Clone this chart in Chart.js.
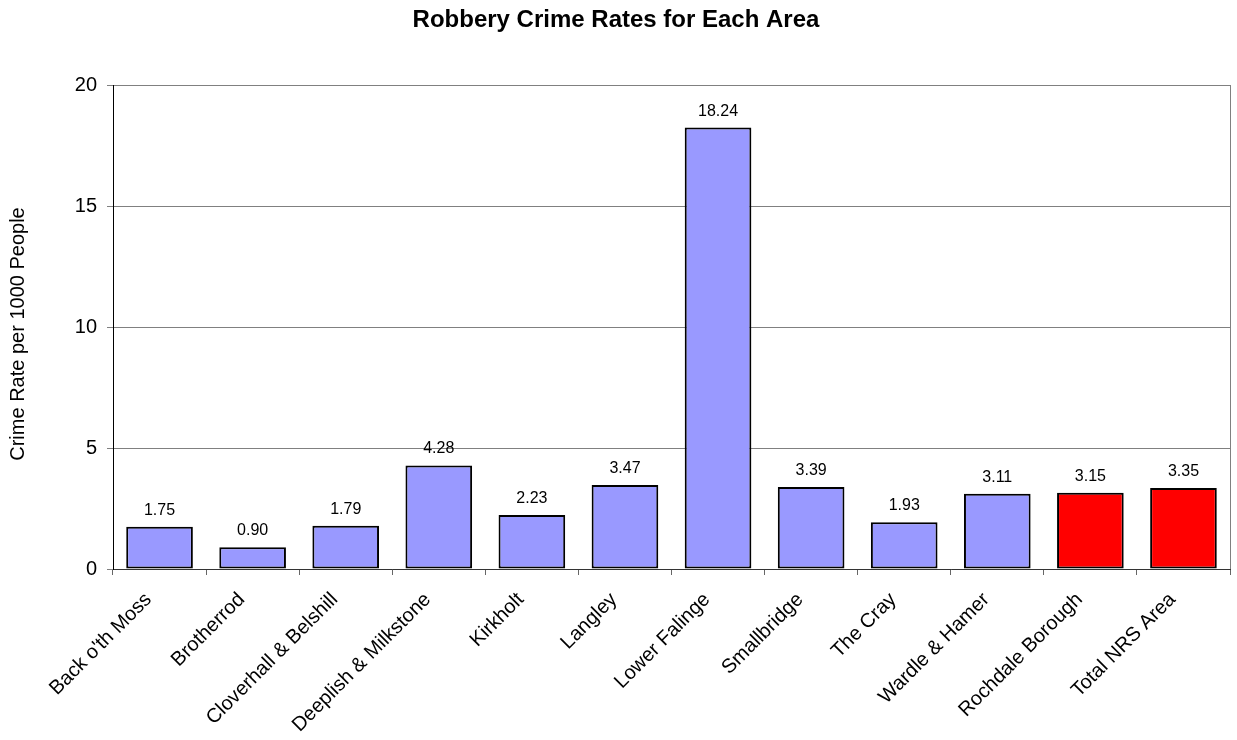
<!DOCTYPE html>
<html>
<head>
<meta charset="utf-8">
<script src="https://cdn.jsdelivr.net/npm/chart.js@4/dist/chart.umd.min.js"></script>
<style>
  html, body { margin: 0; padding: 0; background: #fff; }
  #wrap { width: 1237px; height: 740px; position: relative; }
</style>
</head>
<body>
<div id="wrap"><canvas id="c" width="1237" height="740"></canvas></div>
<script>
const chartTitle = "Robbery Crime Rates for Each Area";
const yAxisTitle = "Crime Rate per 1000 People";
const categories = ["Back o'th Moss", "Brotherrod", "Cloverhall & Belshill", "Deeplish & Milkstone", "Kirkholt", "Langley", "Lower Falinge", "Smallbridge", "The Cray", "Wardle & Hamer", "Rochdale Borough", "Total NRS Area"];
const rates = [1.75, 0.90, 1.79, 4.28, 2.23, 3.47, 18.24, 3.39, 1.93, 3.11, 3.15, 3.35];
const isComparison = [false, false, false, false, false, false, false, false, false, false, true, true];
const yTicks = [0, 5, 10, 15, 20];

const FONT = '"Liberation Sans", Arial, Helvetica, sans-serif';
const AREA_COLOR = '#9999FF';
const COMP_COLOR = '#FF0000';

const decorPlugin = {
  id: 'decor',
  afterDatasetsDraw(chart) {
    const ctx = chart.ctx;
    const area = chart.chartArea;
    const meta = chart.getDatasetMeta(0);
    ctx.save();
    // data labels
    ctx.fillStyle = '#000';
    ctx.font = '16px ' + FONT;
    ctx.textAlign = 'center';
    ctx.textBaseline = 'alphabetic';
    meta.data.forEach((bar, i) => {
      ctx.fillText(rates[i].toFixed(2), bar.x, bar.y - 12);
    });
    // right border of plot area
    ctx.strokeStyle = '#808080';
    ctx.lineWidth = 1;
    ctx.beginPath();
    ctx.moveTo(Math.round(area.right) + 0.5, area.top);
    ctx.lineTo(Math.round(area.right) + 0.5, area.bottom);
    ctx.stroke();
    ctx.restore();
  },
  afterDraw(chart) {
    const ctx = chart.ctx;
    ctx.save();
    ctx.fillStyle = '#000';
    ctx.font = 'bold 24px ' + FONT;
    ctx.textAlign = 'center';
    ctx.textBaseline = 'alphabetic';
    ctx.fillText(chartTitle, 616, 27);
    ctx.translate(24, 334);
    ctx.rotate(-Math.PI / 2);
    ctx.font = '20px ' + FONT;
    ctx.fillText(yAxisTitle, 0, 0);
    ctx.restore();
  }
};

new Chart(document.getElementById('c'), {
  type: 'bar',
  data: {
    labels: categories,
    datasets: [{
      data: rates,
      backgroundColor: isComparison.map(c => c ? COMP_COLOR : AREA_COLOR),
      borderColor: '#000',
      borderWidth: 2,
      borderSkipped: false,
      categoryPercentage: 1.0,
      barPercentage: 0.716
    }]
  },
  options: {
    responsive: false,
    animation: false,
    devicePixelRatio: 1,
    layout: { padding: { top: 85, right: 7, left: 0, bottom: 0 } },
    plugins: {
      legend: { display: false },
      title: { display: false },
      tooltip: { enabled: false }
    },
    scales: {
      x: {
        type: 'category',
        offset: true,
        border: { display: true, color: '#333', width: 1 },
        grid: {
          offset: true,
          drawOnChartArea: false,
          drawTicks: true,
          tickLength: 6,
          color: '#666'
        },
        ticks: {
          autoSkip: false,
          maxRotation: 45,
          minRotation: 45,
          padding: 13,
          labelOffset: -11,
          color: '#000',
          font: { family: FONT, size: 20 }
        },
        afterFit(scale) { scale.height = 171; }
      },
      y: {
        min: 0,
        max: 20,
        border: { display: true, color: '#000', width: 1 },
        grid: {
          color: '#808080',
          drawTicks: true,
          tickLength: 6,
          tickColor: '#808080'
        },
        ticks: {
          stepSize: 5,
          padding: 10,
          color: '#000',
          font: { family: FONT, size: 20 },
          callback: (v) => yTicks.includes(v) ? String(v) : ''
        },
        afterFit(scale) { scale.width = 113; }
      }
    }
  },
  plugins: [decorPlugin]
});
</script>
</body>
</html>
